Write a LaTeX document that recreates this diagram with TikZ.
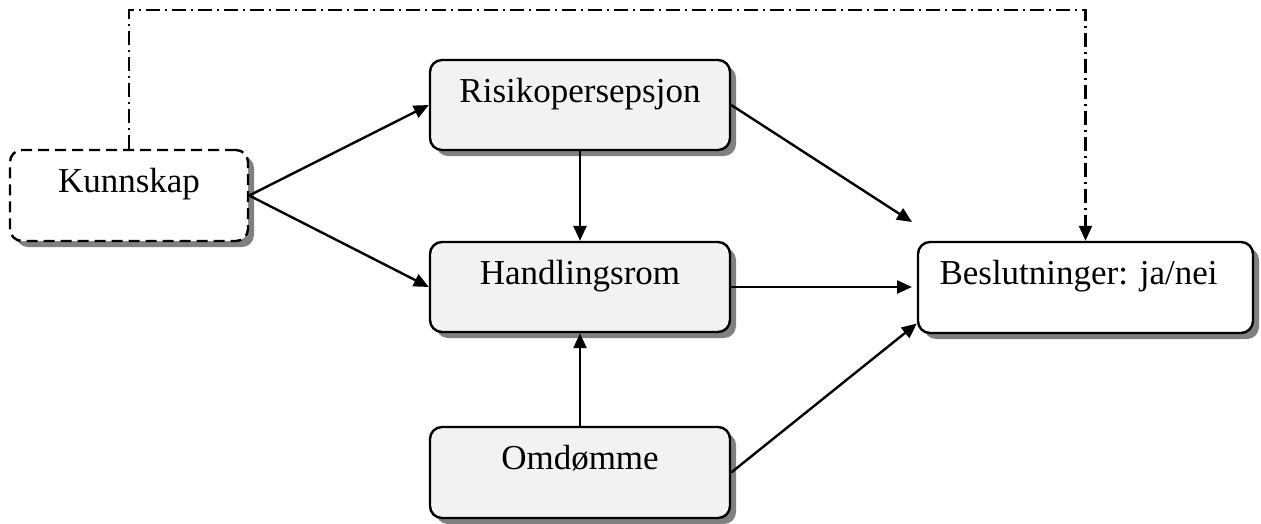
\documentclass[tikz,border=0pt]{standalone}
\usepackage{fontspec}
\setmainfont{Liberation Serif}
\usetikzlibrary{arrows.meta,shadows}
\begin{document}
\begin{tikzpicture}[x=1pt,y=-1pt,
  box/.style={draw,line width=2.4pt,rounded corners=12pt,inner sep=0pt,
    minimum width=300pt,minimum height=90pt,
    text height=21pt,text depth=27pt,
    font=\fontsize{35}{42}\selectfont,
    drop shadow={shadow xshift=6pt,shadow yshift=-6pt,fill=black!50,opacity=1}},
  greybox/.style={box,fill=black!5},
  whitebox/.style={box,fill=white},
  arr/.style={line width=2.4pt,-{Triangle[length=15pt,width=13pt]}},
  dashdot/.style={line width=2.2pt,dash pattern=on 14pt off 5pt on 2pt off 5pt,-{Triangle[length=15pt,width=13pt]}}]
\useasboundingbox (0,0) rectangle (1261,523);
\node[whitebox,dash pattern=on 11pt off 6pt,minimum width=238pt,minimum height=91pt] (K) at (129,195.5) {Kunnskap};
\node[greybox] (R) at (580,105) {Risikopersepsjon};
\node[greybox] (H) at (580,287) {Handlingsrom};
\node[greybox,minimum height=91pt] (O) at (580,472.5) {Omdømme};
\node[whitebox,minimum width=335pt,minimum height=91pt] (B) at (1085.5,287.5) {Beslutninger: ja/nei\hspace*{14pt}};
\coordinate (b1) at (912,222);
\coordinate (b2) at (912,287);
\coordinate (b3) at ([yshift=-36pt]B.west);
\coordinate (top) at (600,10);
\draw[arr] (K.east) -- (R.west);
\draw[arr] (K.east) -- (H.west);
\draw[arr] (R.south) -- (H.north);
\draw[arr] (O.north) -- (H.south);
\draw[arr] (R.east) -- (b1);
\draw[arr] (H.east) -- (b2);
\draw[arr] (O.east) -- (b3);
\draw[dashdot] (K.north) |- (top) -| (B.north);
\end{tikzpicture}
\end{document}
